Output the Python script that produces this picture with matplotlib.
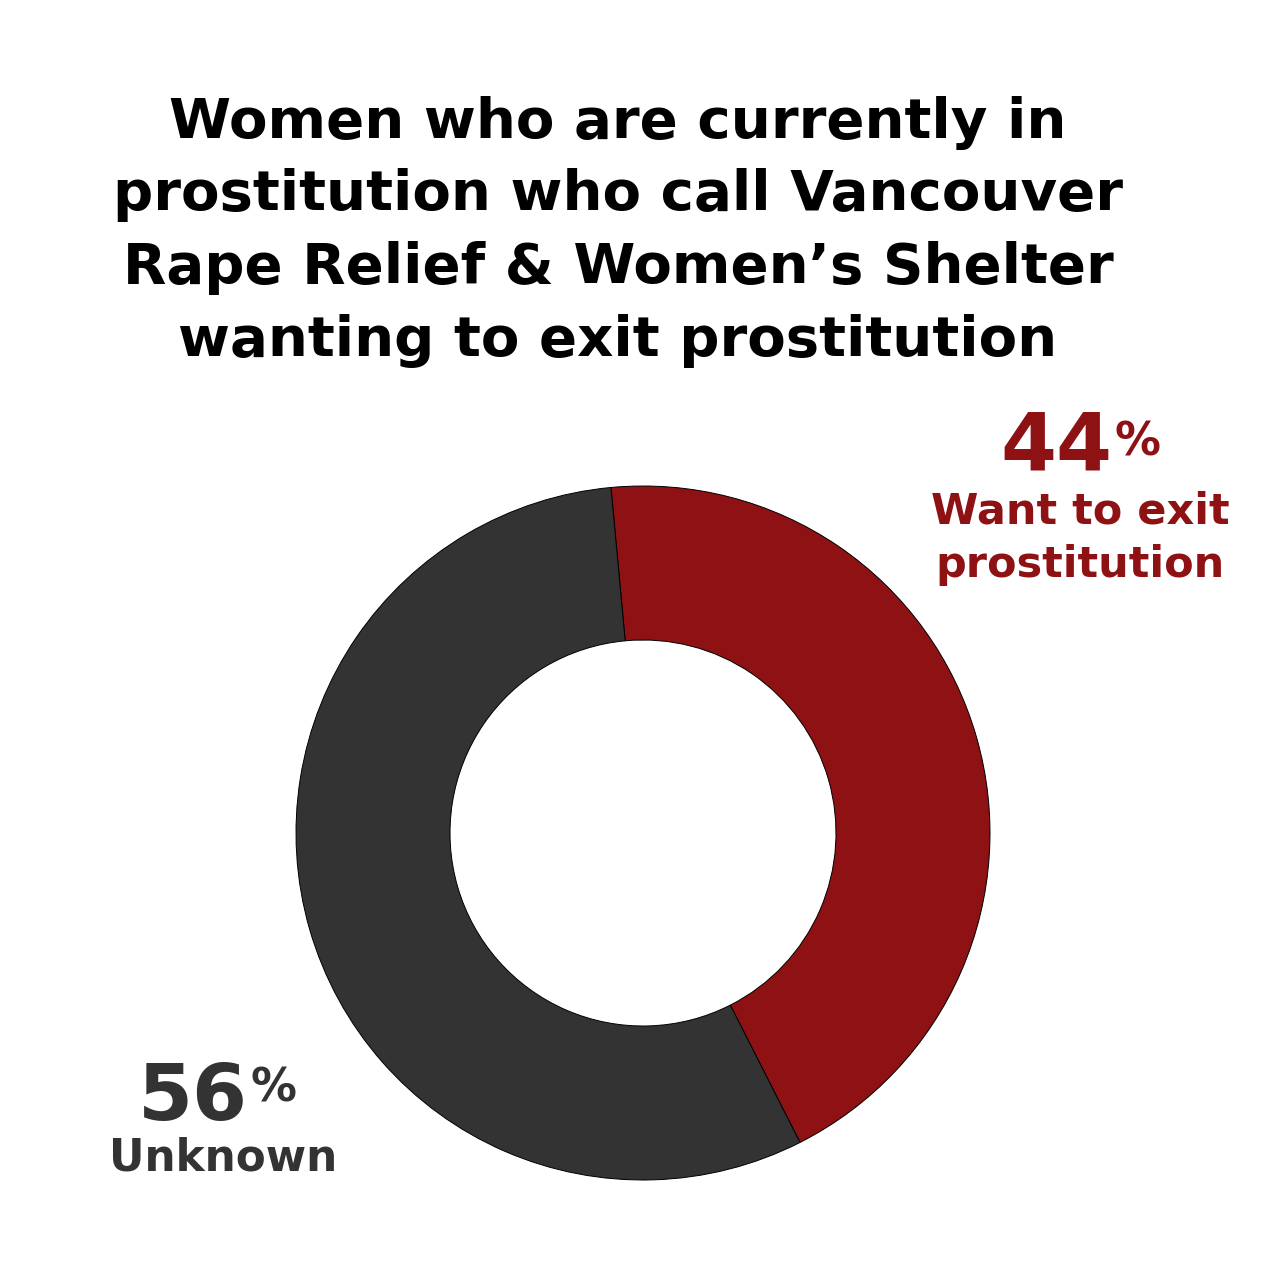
import matplotlib
matplotlib.use("Agg")
import matplotlib.pyplot as plt

######## Data ################################################################

labels = ["Want to exit\nprostitution", "Unknown"]
shares = [44, 56]
colors = ["#8e1114", "#333333"]
title_lines = [
    "Women who are currently in",
    "prostitution who call Vancouver",
    "Rape Relief & Women\u2019s Shelter",
    "wanting to exit prostitution",
]

######## Figure (pixel coordinates, y up) ####################################

W = 1286
fig = plt.figure(figsize=(12.86, 12.86), dpi=100)
ax = fig.add_axes([0, 0, 1, 1])

font = "DejaVu Sans"

# donut
ax.pie(shares, colors=colors, startangle=95.3, counterclock=False,
       center=(643, W - 833), radius=347, frame=True,
       wedgeprops=dict(width=154, edgecolor="black", linewidth=0.7))
ax.set_xlim(0, W)
ax.set_ylim(0, W)
ax.set_aspect("equal")
ax.axis("off")

# title
for i, line in enumerate(title_lines):
    ax.text(618, W - (123 + i * 72.5), line, ha="center", va="center",
            fontsize=40.5, fontweight="bold", family=font, color="black")

# 44% label
ax.text(1112, W - 470, f"{shares[0]}", ha="right", va="baseline",
        fontsize=58, fontweight="bold", family=font, color=colors[0])
ax.text(1114, W - 455, "%", ha="left", va="baseline",
        fontsize=33, fontweight="bold", family=font, color=colors[0])
ax.text(1080, W - 512, labels[0].split("\n")[0], ha="center", va="center",
        fontsize=31, fontweight="bold", family=font, color=colors[0])
ax.text(1080, W - 565, labels[0].split("\n")[1], ha="center", va="center",
        fontsize=31, fontweight="bold", family=font, color=colors[0])

# 56% label
ax.text(248, W - 1120, f"{shares[1]}", ha="right", va="baseline",
        fontsize=57, fontweight="bold", family=font, color=colors[1])
ax.text(250, W - 1102, "%", ha="left", va="baseline",
        fontsize=33, fontweight="bold", family=font, color=colors[1])
ax.text(223, W - 1158, labels[1], ha="center", va="center",
        fontsize=31.5, fontweight="bold", family=font, color=colors[1])

plt.savefig("out.png", dpi=100, facecolor="white")
